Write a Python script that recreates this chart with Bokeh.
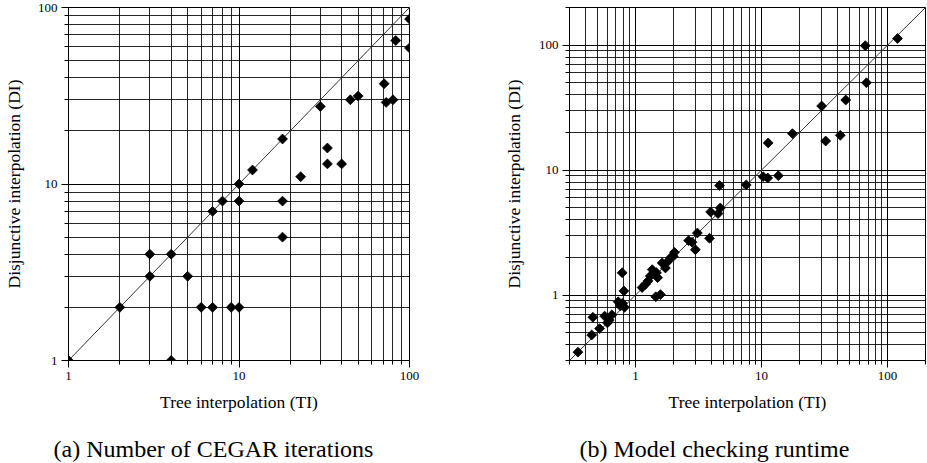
import numpy as np
from bokeh.plotting import figure
from bokeh.layouts import row
from bokeh.models import FixedTicker, Range1d, Title, LinearAxis
from bokeh.embed import file_html
from bokeh.resources import INLINE

FONT = "Liberation Serif"

# ---------------- data ----------------
# (a) Number of CEGAR iterations
ti_a = [1, 2, 3, 3, 4, 4, 5, 6, 7, 7, 8, 9, 10, 10, 10, 12, 18, 18, 18, 23,
        30, 33, 33, 40, 45, 50, 71, 73, 80, 83, 100, 100]
di_a = [1, 2, 4, 3, 4, 1, 3, 2, 2, 7, 8, 2, 2, 10, 8, 12, 18, 8, 5, 11,
        27.5, 16, 13, 13, 30, 31.5, 37, 29, 30, 65, 86, 59]

# (b) Model checking runtime
ti_b = [0.35, 0.45, 0.46, 0.52, 0.57, 0.60, 0.62, 0.65, 0.73, 0.76, 0.785, 0.79,
        0.81, 0.82, 1.13, 1.20, 1.26, 1.31, 1.36, 1.45, 1.47, 1.50, 1.58, 1.63,
        1.73, 1.80, 1.89, 2.00, 2.04, 2.64, 2.81, 2.99, 3.10, 3.87, 3.95, 4.52,
        4.71, 4.65, 7.57, 10.3, 11.2, 13.6, 11.3, 17.6, 30.0, 32.3, 42.2, 46.6,
        66.6, 68.0, 120.0]
di_b = [0.35, 0.48, 0.665, 0.54, 0.68, 0.60, 0.63, 0.695, 0.885, 0.82, 1.51, 0.86,
        1.08, 0.80, 1.15, 1.22, 1.30, 1.42, 1.60, 0.97, 1.51, 1.38, 1.01, 1.81,
        1.65, 1.85, 1.98, 2.05, 2.20, 2.73, 2.65, 2.31, 3.14, 2.85, 4.63, 4.49,
        4.98, 7.53, 7.62, 8.87, 8.65, 9.03, 16.5, 19.6, 32.6, 17.1, 19.0, 36.4,
        99.0, 50.0, 113.0]

range_a = [1, 100]
range_b = [0.3, 200]
major_ticks = [1, 10, 100]
minor_a = [2, 3, 4, 5, 6, 7, 8, 9, 20, 30, 40, 50, 60, 70, 80, 90]
minor_b = [0.3, 0.4, 0.5, 0.6, 0.7, 0.8, 0.9, 2, 3, 4, 5, 6, 7, 8, 9,
           20, 30, 40, 50, 60, 70, 80, 90, 200]
tick_labels = {1: "1", 10: "10", 100: "100"}
x_label = "Tree interpolation (TI)"
y_label = "Disjunctive interpolation (DI)"
caption_a = "(a) Number of CEGAR iterations"
caption_b = "(b) Model checking runtime"

H = 462


def make_panel(xs, ys, rng, minor, width, mb_left, mb_right,
               ylab_standoff, caption, cap_offset):
    p = figure(width=width, height=H, x_axis_type="log", y_axis_type="log",
               x_range=Range1d(rng[0], rng[1]), y_range=Range1d(rng[0], rng[1]),
               output_backend="svg", toolbar_location=None,
               min_border_left=mb_left, min_border_right=mb_right,
               min_border_top=7, min_border_bottom=102)
    p.background_fill_color = "white"
    p.border_fill_color = "white"
    p.outline_line_color = "black"
    p.outline_line_width = 1

    ticker = FixedTicker(ticks=major_ticks, minor_ticks=minor)
    for ax in (p.xaxis[0], p.yaxis[0]):
        ax.ticker = ticker
        ax.major_label_overrides = tick_labels
        ax.major_label_text_font = FONT
        ax.major_label_text_font_size = "13px"
        ax.major_label_text_color = "black"
        ax.axis_label_text_font = FONT
        ax.axis_label_text_font_size = "17.5px"
        ax.axis_label_text_font_style = "normal"
        ax.axis_label_text_color = "black"
        ax.axis_line_color = "black"
        ax.major_tick_line_color = "black"
        ax.minor_tick_line_color = "black"
        ax.major_tick_out = 7
        ax.major_tick_in = 0
        ax.minor_tick_out = 4
        ax.minor_tick_in = 0
    p.xaxis[0].axis_label = x_label
    p.yaxis[0].axis_label = y_label
    p.xaxis[0].major_label_standoff = 4
    p.yaxis[0].major_label_standoff = 4
    p.xaxis[0].axis_label_standoff = 9
    p.yaxis[0].axis_label_standoff = ylab_standoff

    for g in (p.xgrid[0], p.ygrid[0]):
        g.ticker = ticker
        g.grid_line_color = "black"
        g.grid_line_width = 1
        g.minor_grid_line_color = "black"
        g.minor_grid_line_width = 1
        g.minor_grid_line_alpha = 0.85

    p.line(rng, rng, line_color="#333333", line_width=1)
    p.scatter(xs, ys, marker="square", angle=np.pi / 4, size=7,
              fill_color="black", line_color="black", line_width=0.8)

    # invisible spacer axis between the axis title and the caption
    spacer = LinearAxis(ticker=FixedTicker(ticks=[10]), major_tick_out=19,
                        major_tick_in=0, minor_tick_out=0, minor_tick_in=0,
                        major_label_standoff=0, axis_label_standoff=0,
                        major_label_overrides={10: ""},
                        major_label_text_font_size="1px",
                        axis_line_color=None, major_tick_line_color="white",
                        minor_tick_line_color=None)
    p.add_layout(spacer, "below")
    p.add_layout(Title(text=caption, text_font=FONT, text_font_size="24px",
                       text_font_style="normal", text_color="black",
                       align="left", offset=cap_offset, standoff=0,
                       vertical_align="bottom"), "below")
    return p


pa = make_panel(ti_a, di_a, range_a, minor_a, width=455, mb_left=68,
                mb_right=46, ylab_standoff=11, caption=caption_a,
                cap_offset=-15)
pb = make_panel(ti_b, di_b, range_b, minor_b, width=471, mb_left=114,
                mb_right=1, ylab_standoff=12, caption=caption_b,
                cap_offset=10)

layout = row(pa, pb)
open("out.html", "w").write(file_html(layout, INLINE))
